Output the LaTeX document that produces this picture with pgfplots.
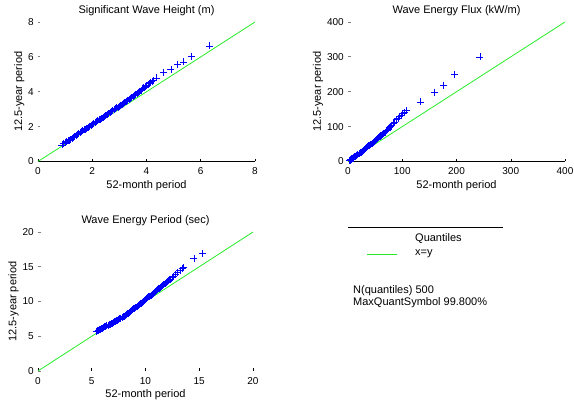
\documentclass[border=0pt]{standalone}
\usepackage{fontspec}
\setmainfont{Liberation Sans}
\usepackage{pgfplots}
\pgfplotsset{compat=1.18}
\definecolor{qblue}{rgb}{0,0,1}
\definecolor{qgreen}{rgb}{0.15,0.92,0.15}
\pgfplotsset{
  qq/.style={
    scale only axis,
    anchor=south west,
    axis x line*=bottom, axis y line*=left,
    x axis line style={-, line width=0.6pt},
    y axis line style={draw=none},
    tick align=inside,
    major tick length=2.5pt,
    xtick style={black, line width=0.5pt},
    ytick style={gray, line width=0.8pt},
    font=\fontsize{11}{13}\selectfont,
    tick label style={font=\fontsize{10}{12}\selectfont},
    xticklabel shift=2.7pt,
    yticklabel shift=0.7pt,
    /pgf/number format/assume math mode=true,
    scaled ticks=false,
    xlabel={52-month period},
    ylabel={12.5-year period},
    xlabel style={yshift=1.5pt},
    ylabel style={yshift=-3pt},
    title style={yshift=-3.5pt},
    clip=false,
  },
  qmark/.style={only marks, mark=+, mark size=3.5pt, qblue, mark options={line width=0.65pt}},
  qline/.style={no marks, qgreen, line width=0.8pt},
}
\begin{document}
\begin{tikzpicture}
\path[use as bounding box] (0pt,0pt) rectangle (574pt,404pt);

% ---------------- Significant Wave Height
\begin{axis}[qq, at={(38pt,242.5pt)}, width=217pt, height=139.5pt,
  xmin=0, xmax=8, ymin=0, ymax=8,
  xtick={0,2,4,6,8}, ytick={0,2,4,6,8},
  title={Significant Wave Height (m)}]
\addplot[qline] coordinates {(0,0) (8,8)};
\addplot[qmark] coordinates {
(0.88,0.95) (0.95,1.02) (1.00,1.07) (1.05,1.12) (1.10,1.18) (1.15,1.23)
(1.20,1.28) (1.25,1.33) (1.30,1.39) (1.35,1.44) (1.40,1.49) (1.45,1.55)
(1.50,1.60) (1.55,1.65) (1.60,1.70) (1.65,1.75) (1.70,1.81) (1.75,1.86)
(1.80,1.91) (1.85,1.96) (1.90,2.02) (1.95,2.07) (2.00,2.12) (2.05,2.17)
(2.10,2.22) (2.15,2.27) (2.20,2.33) (2.25,2.38) (2.30,2.43) (2.35,2.48)
(2.40,2.54) (2.45,2.59) (2.50,2.64) (2.55,2.69) (2.60,2.75) (2.65,2.80)
(2.70,2.85) (2.75,2.91) (2.80,2.96) (2.85,3.02) (2.90,3.07) (2.95,3.12)
(3.00,3.18) (3.05,3.23) (3.10,3.29) (3.15,3.34) (3.20,3.40) (3.25,3.45)
(3.30,3.51) (3.35,3.57) (3.40,3.62) (3.45,3.68) (3.50,3.74) (3.55,3.80)
(3.60,3.86) (3.65,3.91) (3.70,3.97) (3.75,4.03) (3.80,4.10) (3.85,4.16)
(3.90,4.22) (3.95,4.28) (4.00,4.33) (4.05,4.39) (4.10,4.46) (4.15,4.52)
(4.20,4.59) (4.26,4.66)
(4.38,4.79) (4.63,5.10) (4.90,5.29) (5.15,5.56) (5.36,5.71) (5.65,6.03) (6.31,6.63)
};
\end{axis}

% ---------------- Wave Energy Flux
\begin{axis}[qq, at={(348pt,242.5pt)}, width=217pt, height=139.5pt,
  xmin=0, xmax=400, ymin=0, ymax=400,
  xtick={0,100,200,300,400}, ytick={0,100,200,300,400},
  title={Wave Energy Flux (kW/m)}]
\addplot[qline] coordinates {(0,0) (400,400)};
\addplot[qmark] coordinates {
(3,3.0) (4,4.1) (5,5.2) (6,6.3) (7,7.4) (8,8.5) (9,9.7) (10,10.8)
(12,13.1) (14,15.4) (16,17.8) (18,20.1) (20,22.4) (22,24.8) (24,27.2)
(26,29.6) (28,32.0) (30,34.5) (32,36.9) (34,39.4) (36,41.9) (38,44.5)
(40,47.2) (42,49.6) (44,52.0) (46,54.5) (48,57.1) (50,60.0) (52,62.5)
(54,65.0) (56,67.8) (58,70.5) (60,73.2) (62,75.9) (64,78.7) (66,81.6)
(68,84.5) (70,87.5) (72,90.7) (74,93.6) (76,96.7) (78,99.8) (80,104)
(83,108.5) (86,113.5) (89,119.5) (92,124.5) (95,129) (98,133) (101,137)
(104,141) (108,146)
(134,171) (159,197) (176,217) (196,249) (243,300)
};
\end{axis}

% ---------------- Wave Energy Period
\begin{axis}[qq, at={(38pt,33pt)}, width=215pt, height=139pt,
  x axis line style={draw=none},
  xmin=0, xmax=20, ymin=0, ymax=20,
  xtick={0,5,10,15,20}, ytick={0,5,10,15,20},
  title={Wave Energy Period (sec)}]
\addplot[qline] coordinates {(0,0) (20,20)};
\addplot[qmark] coordinates {
(5.40,5.70) (5.50,5.78) (5.60,5.86) (5.70,5.94) (5.80,6.02) (5.90,6.10)
(6.00,6.18) (6.10,6.26) (6.20,6.34) (6.30,6.42) (6.40,6.50) (6.50,6.58)
(6.60,6.66) (6.70,6.74) (6.80,6.82) (6.90,6.90) (7.00,6.98) (7.10,7.06)
(7.20,7.15) (7.30,7.24) (7.40,7.33) (7.50,7.42) (7.60,7.51) (7.70,7.61)
(7.80,7.71) (7.90,7.81) (8.00,7.91) (8.10,8.01) (8.20,8.12) (8.30,8.23)
(8.40,8.34) (8.50,8.46) (8.60,8.58) (8.70,8.70) (8.80,8.82) (8.90,8.94)
(9.00,9.06) (9.10,9.18) (9.20,9.30) (9.30,9.42) (9.40,9.54) (9.50,9.66)
(9.60,9.78) (9.70,9.90) (9.80,10.02) (9.90,10.14) (10.0,10.27) (10.1,10.40)
(10.2,10.52) (10.3,10.65) (10.4,10.78) (10.5,10.90) (10.6,11.03) (10.7,11.16)
(10.8,11.28) (10.9,11.41) (11.0,11.54) (11.1,11.67) (11.2,11.80) (11.3,11.93)
(11.4,12.06) (11.5,12.19) (11.6,12.32) (11.7,12.45) (11.8,12.58) (11.9,12.71)
(12.0,12.84) (12.1,12.97) (12.2,13.10) (12.3,13.23) (12.45,13.42) (12.6,13.62)
(12.8,13.88) (13.0,14.15) (13.2,14.45) (13.4,14.72)
(13.55,14.90) (14.5,16.2) (15.3,16.9)
};
\end{axis}

% ---------------- legend / info panel
\draw[black, line width=0.7pt] (348pt,177pt) -- (503pt,177pt);
\node[anchor=west, inner sep=0pt, font=\fontsize{11}{13}\selectfont] at (415pt,165pt) {Quantiles};
\draw[qgreen, line width=0.8pt] (367pt,150pt) -- (397pt,150pt);
\node[anchor=west, inner sep=0pt, font=\fontsize{11}{13}\selectfont] at (415pt,150pt) {x=y};
\node[anchor=west, inner sep=0pt, font=\fontsize{11}{13}\selectfont] at (353pt,113pt) {N(quantiles) 500};
\node[anchor=west, inner sep=0pt, font=\fontsize{11}{13}\selectfont] at (353pt,101pt) {MaxQuantSymbol 99.800\%};
\end{tikzpicture}
\end{document}
